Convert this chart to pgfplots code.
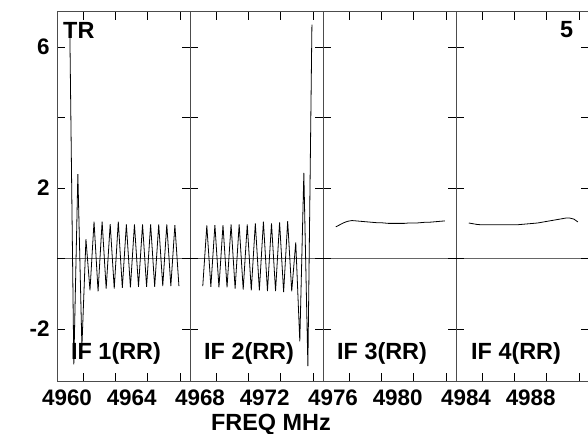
\documentclass[border=0pt]{standalone}
\usepackage{fontspec}
\setmainfont{Liberation Sans}
\usepackage{pgfplots}
\pgfplotsset{compat=1.18}

\pgfplotsset{
  panel/.style={
    scale only axis, width=133bp, height=369bp,
    anchor=south west,
    ymin=-3.475, ymax=7,
    axis line style={draw=black!70, line width=1bp},
    tick align=inside, xtick pos=both, ytick pos=both,
    major tick length=8bp, minor tick length=8bp,
    tick style={black, line width=0.8bp},
    major x tick style={draw=none},
    ytick={-2,2,6}, minor ytick={4}, yticklabels={},
    extra y ticks={0}, extra y tick labels={},
    extra y tick style={grid=major, major grid style={black!60, line width=1.3bp}},
    ticklabel style={font=\fontsize{22.5}{26}\selectfont\bfseries},
    xticklabel style={yshift=-5bp},
    yticklabel style={xshift=-4bp},
  },
  trace/.style={black, line width=0.8bp},
}

\begin{document}
\begin{tikzpicture}[font=\fontsize{23.5}{27}\selectfont\bfseries]

% IF 1
\begin{axis}[panel, at={(57bp,53bp)}, xmin=4959.38, xmax=4967.605,
  xtick={4960,4964}, xticklabels={4960,4964}, minor xtick={4961,4963,4965,4967},
  yticklabels={-2,2,6}]
\addplot[trace] coordinates {
(4960.17,6.6) (4960.42,-3.0) (4960.67,2.4) (4960.92,-2.5)
(4961.17,0.55) (4961.42,-0.9) (4961.67,1.05) (4961.92,-0.93)
(4962.17,1.05) (4962.42,-0.85) (4962.67,0.98) (4962.92,-0.85)
(4963.17,1.05) (4963.42,-0.83) (4963.67,0.97) (4963.92,-0.82)
(4964.17,0.97) (4964.42,-0.8) (4964.67,0.97) (4964.92,-0.8)
(4965.17,0.97) (4965.42,-0.8) (4965.67,0.97) (4965.92,-0.78)
(4966.17,0.97) (4966.42,-0.78) (4966.67,0.95) (4966.92,-0.78)
};
\end{axis}

% IF 2
\begin{axis}[panel, at={(190bp,53bp)}, xmin=4967.38, xmax=4975.605,
  xtick={4968,4972}, xticklabels={4968,4972}, minor xtick={4969,4971,4973,4975}]
\addplot[trace] coordinates {
(4968.17,-0.78) (4968.42,0.94) (4968.67,-0.8) (4968.92,0.95)
(4969.17,-0.82) (4969.42,0.95) (4969.67,-0.82) (4969.92,0.97)
(4970.17,-0.85) (4970.42,0.97) (4970.67,-0.88) (4970.92,0.97)
(4971.17,-0.9) (4971.42,1.0) (4971.67,-0.9) (4971.92,1.05)
(4972.17,-0.92) (4972.42,1.0) (4972.67,-0.92) (4972.92,1.03)
(4973.17,-0.95) (4973.42,1.06) (4973.67,-0.93) (4973.92,0.46)
(4974.17,-2.35) (4974.42,2.43) (4974.67,-3.05) (4974.92,6.64)
};
\end{axis}

% IF 3
\begin{axis}[panel, at={(323bp,53bp)}, xmin=4975.38, xmax=4983.605,
  xtick={4976,4980}, xticklabels={4976,4980}, minor xtick={4977,4979,4981,4983}]
\addplot[trace] coordinates {
(4976.17,0.90) (4976.42,0.96) (4976.67,1.02) (4976.92,1.06)
(4977.17,1.08) (4977.42,1.07) (4977.67,1.06) (4977.92,1.05)
(4978.17,1.04) (4978.42,1.03) (4978.67,1.02) (4978.92,1.02)
(4979.17,1.01) (4979.42,1.00) (4979.67,1.00) (4979.92,1.00)
(4980.17,1.00) (4980.42,1.00) (4980.67,1.01) (4980.92,1.01)
(4981.17,1.01) (4981.42,1.02) (4981.67,1.03) (4981.92,1.03)
(4982.17,1.04) (4982.42,1.05) (4982.67,1.06) (4982.92,1.07)
};
\end{axis}

% IF 4
\begin{axis}[panel, at={(456bp,53bp)}, xmin=4983.38, xmax=4991.605,
  xtick={4984,4988}, xticklabels={4984,4988}, minor xtick={4985,4987,4989,4991}]
\addplot[trace] coordinates {
(4984.17,1.01) (4984.42,0.99) (4984.67,0.97) (4984.92,0.96)
(4985.17,0.96) (4985.42,0.96) (4985.67,0.96) (4985.92,0.96)
(4986.17,0.96) (4986.42,0.96) (4986.67,0.96) (4986.92,0.96)
(4987.17,0.96) (4987.42,0.97) (4987.67,0.98) (4987.92,0.99)
(4988.17,1.00) (4988.42,1.01) (4988.67,1.03) (4988.92,1.05)
(4989.17,1.07) (4989.42,1.09) (4989.67,1.11) (4989.92,1.13)
(4990.17,1.15) (4990.42,1.15) (4990.67,1.12) (4990.92,1.04)
};
\end{axis}

\node[anchor=base west, inner sep=0pt] at (63bp,395bp) {TR};
\node[anchor=base west, inner sep=0pt] at (560bp,396bp) {5};
\node[anchor=base west, inner sep=0pt] at (71bp,74bp) {IF 1(RR)};
\node[anchor=base west, inner sep=0pt] at (204bp,74bp) {IF 2(RR)};
\node[anchor=base west, inner sep=0pt] at (337bp,74bp) {IF 3(RR)};
\node[anchor=base west, inner sep=0pt] at (471bp,74bp) {IF 4(RR)};
\node[anchor=base, inner sep=0pt] at (271bp,4bp) {FREQ MHz};

\pgfresetboundingbox
\path[use as bounding box] (0bp,0bp) rectangle (588bp,434bp);
\end{tikzpicture}
\end{document}
